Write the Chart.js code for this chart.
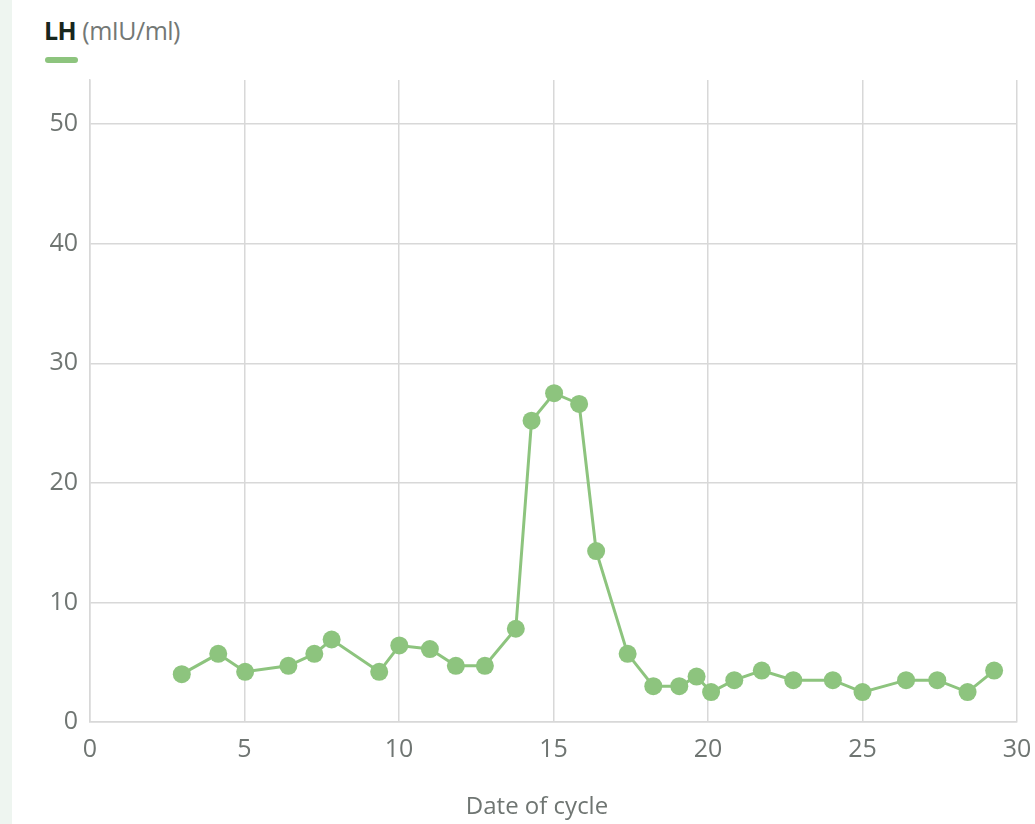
<!DOCTYPE html>
<html>
<head>
<meta charset="utf-8">
<script src="https://cdn.jsdelivr.net/npm/chart.js@4"></script>
<style>
  html, body { margin: 0; padding: 0; background: #fff; }
  body { width: 1035px; height: 824px; position: relative; overflow: hidden; font-family: "Open Sans", sans-serif; }
  .strip { position: absolute; left: 0; top: 0; width: 12px; height: 824px; background: #eef5f0; }
  .title { position: absolute; left: 44px; top: 13px; font-size: 25px; color: #737875; letter-spacing: -0.5px; }
  .title b { color: #17261d; font-weight: 700; }
  .key { position: absolute; left: 45px; top: 57px; width: 33px; height: 6px; border-radius: 3px; background: #8dc47e; }
  .xtitle { position: absolute; left: 387px; width: 300px; top: 788px; text-align: center; font-size: 24px; color: #6f7572; }
  #wrap { position: absolute; left: 0; top: 0; width: 1035px; height: 824px; }
</style>
</head>
<body>
<div class="strip"></div>
<div class="title"><b>LH</b> (mIU/ml)</div>
<div class="key"></div>
<div id="wrap"><canvas id="lhChart"></canvas></div>
<div class="xtitle">Date of cycle</div>
<script>
// LH readings over the cycle
const days = [2.97, 4.15, 5.02, 6.42, 7.26, 7.82, 9.36, 10.01, 11.0, 11.84, 12.78, 13.78, 14.29, 15.02, 15.83, 16.38,
  17.4, 18.23, 19.07, 19.63, 20.1, 20.85, 21.74, 22.76, 24.04, 25.0, 26.41, 27.42, 28.4, 29.26];
const lhValues = [4.0, 5.7, 4.2, 4.7, 5.7, 6.9, 4.2, 6.4, 6.1, 4.7, 4.7, 7.8, 25.2, 27.5, 26.6, 14.3,
  5.7, 3.0, 3.0, 3.8, 2.5, 3.5, 4.3, 3.5, 3.5, 2.5, 3.5, 3.5, 2.5, 4.3];
const yTicks = [0, 10, 20, 30, 40, 50];
const xTicks = [0, 5, 10, 15, 20, 25, 30];

const green = '#8dc47e';
const gridColor = '#d8d8d8';
const tickColor = '#6f7572';

const lhCtx = document.getElementById('lhChart').getContext('2d');
const lhChart = new Chart(lhCtx, {
  type: 'line',
  data: {
    datasets: [{
      label: 'LH',
      data: days.map((d, i) => ({ x: d, y: lhValues[i] })),
      borderColor: green,
      backgroundColor: green,
      borderWidth: 3,
      pointRadius: 9,
      pointBorderWidth: 0,
      tension: 0
    }]
  },
  options: {
    responsive: true,
    maintainAspectRatio: false,
    animation: false,
    layout: { padding: { top: 80, right: 18, left: 0, bottom: 0 } },
    plugins: { legend: { display: false }, tooltip: { enabled: false } },
    scales: {
      x: {
        type: 'linear',
        min: 0,
        max: 30,
        afterBuildTicks: axis => { axis.ticks = xTicks.map(v => ({ value: v })); },
        afterFit: axis => { axis.height = 102; axis.paddingLeft = 0; axis.paddingRight = 0; },
        grid: { color: gridColor, lineWidth: 1.5, drawTicks: false },
        border: { color: gridColor, width: 1.5 },
        ticks: { color: tickColor, padding: 13, font: { family: 'Open Sans', size: 25 } }
      },
      y: {
        min: 0,
        max: 53.7,
        afterBuildTicks: axis => { axis.ticks = yTicks.map(v => ({ value: v })); },
        afterFit: axis => { axis.width = 90; },
        grid: { color: gridColor, lineWidth: 1.5, drawTicks: false },
        border: { color: gridColor, width: 1.5 },
        ticks: { color: tickColor, padding: 12, font: { family: 'Open Sans', size: 25 } }
      }
    }
  }
});
</script>
</body>
</html>
